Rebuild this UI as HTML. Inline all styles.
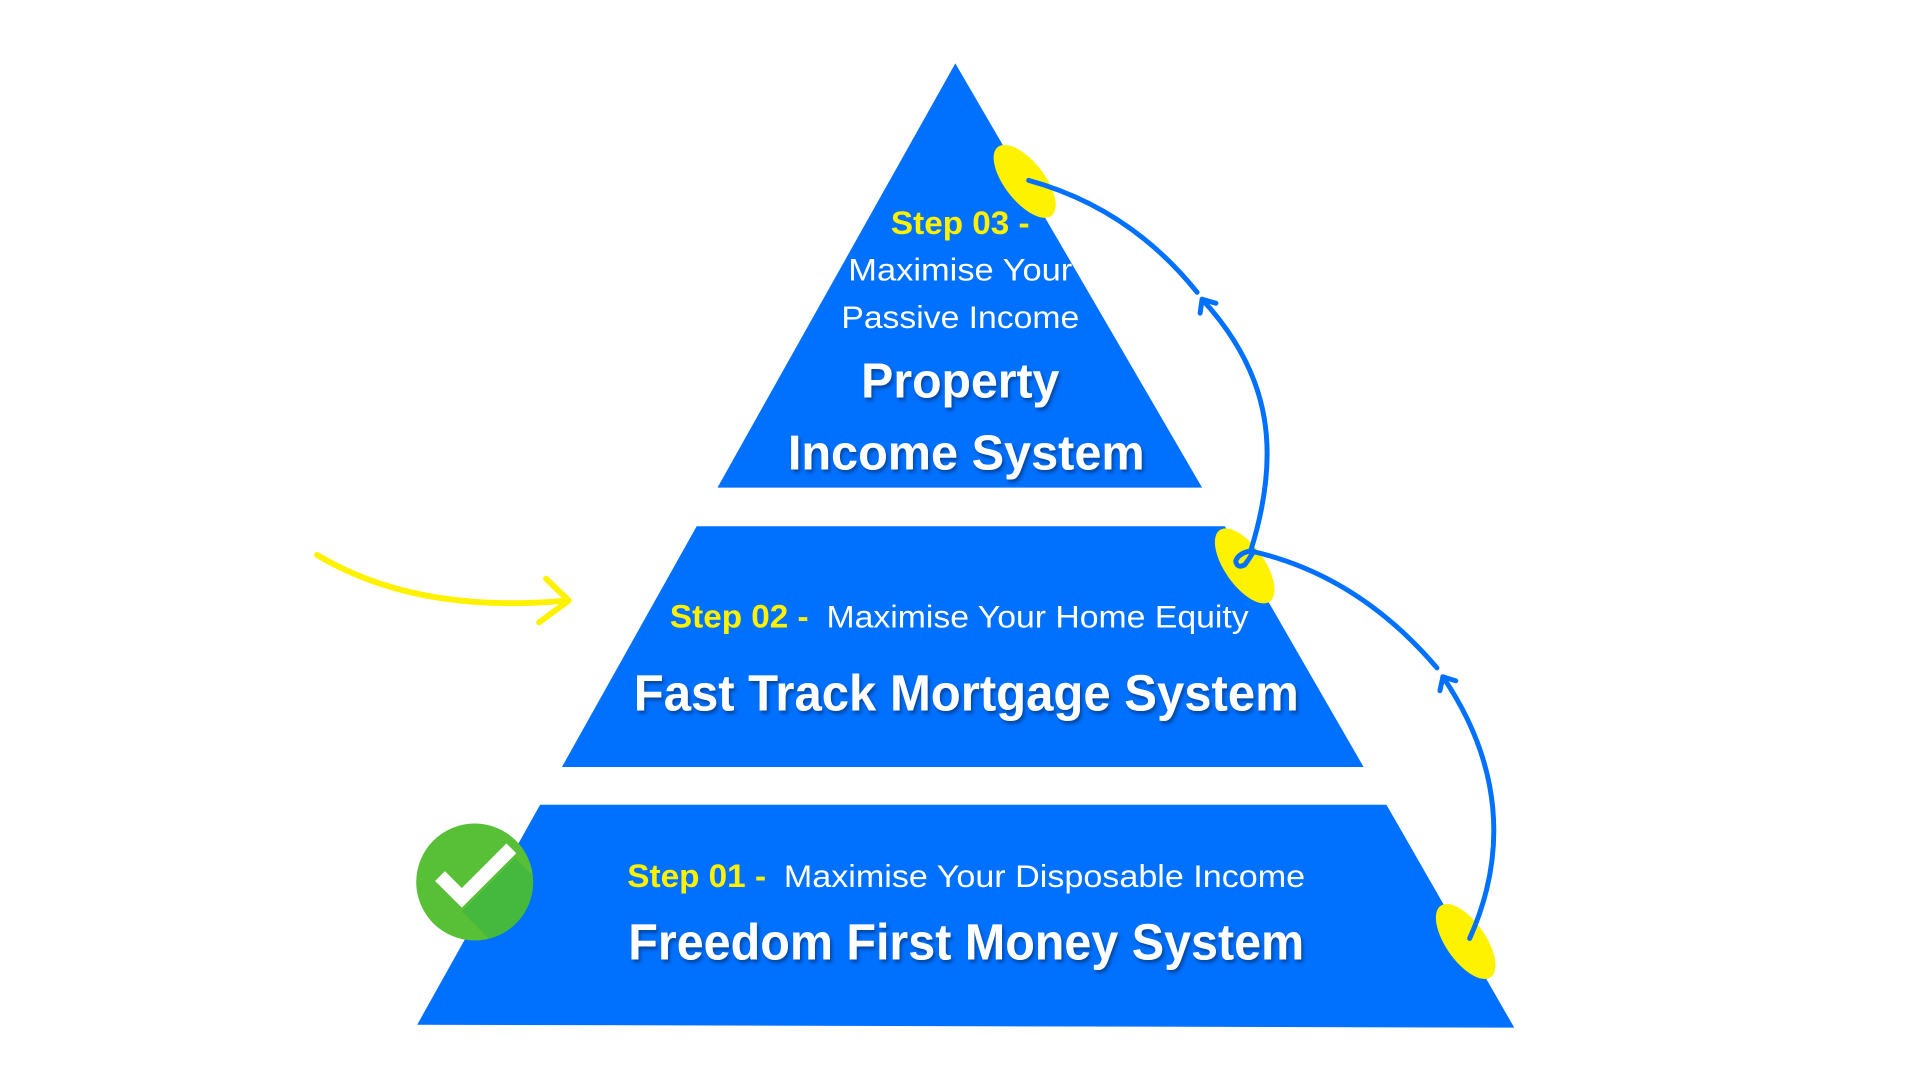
<!DOCTYPE html>
<html><head><meta charset="utf-8"><style>
html,body{margin:0;padding:0;background:#fff;}
svg{display:block;}
text{font-family:"Liberation Sans",Arial,sans-serif;}
</style></head><body>
<svg width="1920" height="1080" viewBox="0 0 1920 1080" xmlns="http://www.w3.org/2000/svg">
<defs>
<filter id="sh" x="-10%" y="-30%" width="120%" height="160%">
<feDropShadow dx="2" dy="3" stdDeviation="1.5" flood-color="#002a66" flood-opacity="0.6"/>
</filter>
<clipPath id="cc"><circle cx="479" cy="890" r="59"/></clipPath>
</defs>
<g transform="scale(0.991)">
<polygon points="964,64 1213,492 724,492" fill="#0070FF"/>
<polygon points="703,531 1236,531 1376,774 567,774" fill="#0070FF"/>
<polygon points="545,812 1399,812 1528,1037 421,1034" fill="#0070FF"/>

<ellipse cx="1034" cy="183" rx="44" ry="20" transform="rotate(52 1034 183)" fill="#FFF200"/>
<ellipse cx="1256" cy="571" rx="44" ry="20" transform="rotate(55 1256 571)" fill="#FFF200"/>
<ellipse cx="1479" cy="950" rx="44" ry="20" transform="rotate(55 1479 950)" fill="#FFF200"/>

<g fill="none" stroke="#0070FF" stroke-width="5" stroke-linecap="round" stroke-linejoin="round">
<path d="M1038,182 Q1140,210 1208,295"/>
<path d="M1262,556 C1292,460 1285,380 1213,302"/>
<path d="M1213,302 L1211,316 M1213,302 L1227,306"/>
<path d="M1262,556 Q1250,558 1247,566 Q1248,574 1256,570 Q1262,562 1265,556"/>
<path d="M1262,556 Q1370,580 1450,674"/>
<path d="M1483,947 C1522,860 1515,770 1456,683"/>
<path d="M1456,683 L1453,697 M1456,683 L1469,687"/>
</g>

<g fill="none" stroke="#FFF200" stroke-width="6" stroke-linecap="round" stroke-linejoin="round">
<path d="M320,560 Q420,620 572,606"/>
<path d="M551,584 L574,606 L544,628"/>
</g>

<circle cx="479" cy="890" r="59" fill="#57C037"/>
<path d="M466,920 L520,866 L600,946 L546,1000 Z" fill="#45B83E" clip-path="url(#cc)"/>
<polyline points="444,884 466,906 516,856" fill="none" stroke="#fff" stroke-width="14" stroke-linecap="butt"/>

<text x="969" y="236" text-anchor="middle" font-size="33" font-weight="bold" fill="#FFF200" textLength="140" lengthAdjust="spacingAndGlyphs">Step 03 -</text>
<text x="969" y="283" text-anchor="middle" font-size="32" fill="#fff" textLength="226" lengthAdjust="spacingAndGlyphs">Maximise Your</text>
<text x="969" y="331" text-anchor="middle" font-size="32" fill="#fff" textLength="240" lengthAdjust="spacingAndGlyphs">Passive Income</text>
<g filter="url(#sh)" fill="#fff" font-weight="bold">
<text x="969" y="401" text-anchor="middle" font-size="50" textLength="200" lengthAdjust="spacingAndGlyphs">Property</text>
<text x="975" y="474" text-anchor="middle" font-size="50" textLength="360" lengthAdjust="spacingAndGlyphs">Income System</text>
<text x="975" y="717" text-anchor="middle" font-size="51" textLength="671" lengthAdjust="spacingAndGlyphs">Fast Track Mortgage System</text>
<text x="975" y="968" text-anchor="middle" font-size="51" textLength="682" lengthAdjust="spacingAndGlyphs">Freedom First Money System</text>
</g>
<text x="676" y="633" font-size="33" font-weight="bold" fill="#FFF200" textLength="140" lengthAdjust="spacingAndGlyphs">Step 02 -</text>
<text x="834" y="633" font-size="32" fill="#fff" textLength="426" lengthAdjust="spacingAndGlyphs">Maximise Your Home Equity</text>
<text x="633" y="895" font-size="33" font-weight="bold" fill="#FFF200" textLength="140" lengthAdjust="spacingAndGlyphs">Step 01 -</text>
<text x="791" y="895" font-size="32" fill="#fff" textLength="526" lengthAdjust="spacingAndGlyphs">Maximise Your Disposable Income</text>
</g>
</svg>
</body></html>
